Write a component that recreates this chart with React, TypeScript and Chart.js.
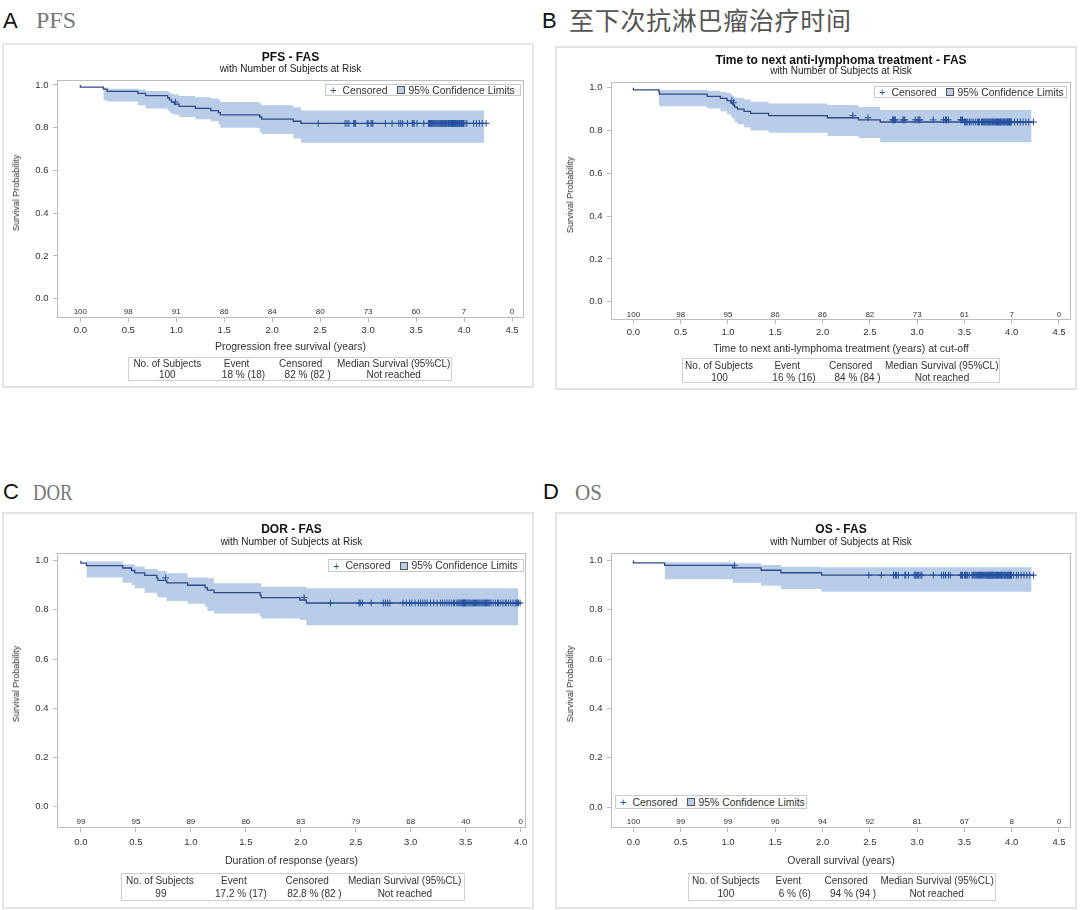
import React, { useEffect, useRef } from "react";
import { Chart, registerables } from "chart.js";

Chart.register(...registerables);

const FONT = '"Liberation Sans", Arial, Helvetica, sans-serif';
const SERIF = '"Liberation Serif", "Times New Roman", serif';
const CJK = '"Noto Sans CJK SC", sans-serif';
const BAND = "#b9cde8";
const LINE = "#2c4a86";
const MARK = "#24509e";
const FRAME = "#bdbdbd";
const TEXT = "#333333";

// ---------- shared axis / table text ----------
const yTickValues = [0, 0.2, 0.4, 0.6, 0.8, 1.0];
const xTicks45 = [0, 0.5, 1, 1.5, 2, 2.5, 3, 3.5, 4, 4.5];
const xTicks40 = [0, 0.5, 1, 1.5, 2, 2.5, 3, 3.5, 4];
const tableHeaders = ["No. of Subjects", "Event", "Censored", "Median Survival (95%CL)"];

// ---------- A: PFS ----------
const pfsEventTimes = [0.24, 0.28, 0.6, 0.68, 0.91, 0.93, 0.95, 0.98, 1.03, 1.2, 1.36, 1.44, 1.46, 1.87, 1.89, 2.22, 2.3, 2.35];
const pfsSurvival = [0.99, 0.98, 0.97, 0.96, 0.95, 0.94, 0.93, 0.92, 0.91, 0.9, 0.89, 0.88, 0.87, 0.86, 0.85, 0.84, 0.83, 0.82];
const pfsUpper = [0.99, 0.988, 0.982, 0.978, 0.972, 0.968, 0.962, 0.958, 0.955, 0.948, 0.942, 0.936, 0.932, 0.92, 0.914, 0.905, 0.895, 0.88];
const pfsLower = [0.93, 0.928, 0.922, 0.905, 0.89, 0.88, 0.87, 0.865, 0.86, 0.85, 0.84, 0.83, 0.815, 0.8, 0.78, 0.77, 0.75, 0.73];
const pfsCensorTimes = [
  0.99, 2.48, 2.76, 2.78, 2.8, 2.85, 2.86, 2.87, 2.99, 3.0, 3.03, 3.04, 3.05, 3.18, 3.25, 3.32, 3.34, 3.36, 3.41, 3.46, 3.47, 3.48,
  3.51, 3.58, 3.63, 3.64, 3.65, 3.66, 3.67, 3.68, 3.69, 3.7, 3.71, 3.72, 3.73, 3.74, 3.75, 3.75, 3.76, 3.77, 3.77, 3.78, 3.79, 3.79,
  3.8, 3.81, 3.81, 3.82, 3.83, 3.84, 3.84, 3.85, 3.86, 3.87, 3.87, 3.88, 3.89, 3.89, 3.9, 3.91, 3.91, 3.92, 3.93, 3.93, 3.94, 3.95,
  3.95, 3.96, 3.97, 3.97, 3.98, 3.98, 3.99, 3.99, 3.995, 4.01, 4.03, 4.1, 4.13, 4.16, 4.19, 4.23,
];
const pfsEndTime = 4.23;
const pfsBandEnd = 4.21;
const pfsRiskCounts = [100, 98, 91, 86, 84, 80, 73, 60, 7, 0];
const pfsTableValues = ["100", "18 % (18)", "82 % (82 )", "Not reached"];

// ---------- B: time to next anti-lymphoma treatment ----------
const ttntEventTimes = [0.27, 0.275, 0.78, 0.92, 0.99, 1.03, 1.05, 1.07, 1.1, 1.17, 1.24, 1.43, 2.05, 2.38, 2.61, 3.49];
const ttntSurvival = [0.99, 0.98, 0.97, 0.96, 0.95, 0.94, 0.93, 0.92, 0.91, 0.9, 0.89, 0.88, 0.87, 0.86, 0.85, 0.84];
const ttntUpper = [0.998, 0.997, 0.99, 0.986, 0.98, 0.975, 0.968, 0.962, 0.955, 0.952, 0.945, 0.935, 0.927, 0.92, 0.91, 0.896];
const ttntLower = [0.93, 0.927, 0.914, 0.903, 0.89, 0.878, 0.865, 0.855, 0.84, 0.83, 0.815, 0.8, 0.79, 0.775, 0.765, 0.745];
const ttntCensorTimes = [
  1.04, 1.06, 2.32, 2.48, 2.74, 2.75, 2.76, 2.77, 2.85, 2.86, 2.87, 2.98, 3.01, 3.02, 3.03, 3.17, 3.28, 3.3, 3.31, 3.33, 3.46, 3.47,
  3.48, 3.5, 3.51, 3.52, 3.53, 3.55, 3.56, 3.58, 3.6, 3.62, 3.64, 3.65, 3.66, 3.68, 3.69, 3.7, 3.71, 3.72, 3.73, 3.74, 3.75, 3.76,
  3.76, 3.77, 3.78, 3.79, 3.8, 3.8, 3.81, 3.82, 3.83, 3.84, 3.85, 3.85, 3.86, 3.87, 3.88, 3.88, 3.89, 3.9, 3.91, 3.92, 3.92, 3.93,
  3.94, 3.95, 3.95, 3.96, 3.97, 3.97, 3.98, 3.98, 3.99, 3.99, 3.995, 4.03, 4.06, 4.09, 4.12, 4.15, 4.18, 4.23,
];
const ttntEndTime = 4.23;
const ttntBandEnd = 4.21;
const ttntRiskCounts = [100, 98, 95, 86, 86, 82, 73, 61, 7, 0];
const ttntTableValues = ["100", "16 % (16)", "84 % (84 )", "Not reached"];

// ---------- C: DOR ----------
const dorEventTimes = [0.05, 0.38, 0.46, 0.49, 0.58, 0.69, 0.7, 0.78, 0.97, 1.13, 1.15, 1.21, 1.63, 1.64, 1.99, 2.05, 2.1];
const dorSurvival = [0.99, 0.98, 0.97, 0.96, 0.95, 0.94, 0.93, 0.92, 0.91, 0.9, 0.89, 0.88, 0.87, 0.86, 0.85, 0.84, 0.828];
const dorUpper = [0.999, 0.996, 0.985, 0.985, 0.976, 0.966, 0.966, 0.958, 0.949, 0.931, 0.931, 0.928, 0.908, 0.908, 0.894, 0.894, 0.888];
const dorLower = [0.931, 0.931, 0.91, 0.901, 0.888, 0.87, 0.86, 0.85, 0.836, 0.825, 0.813, 0.795, 0.785, 0.775, 0.765, 0.759, 0.738];
const dorCensorTimes = [
  0.77, 2.03, 2.27, 2.53, 2.54, 2.56, 2.64, 2.75, 2.77, 2.79, 2.81, 2.93, 2.96, 2.99, 3.01, 3.04, 3.07, 3.09, 3.11, 3.13, 3.15, 3.18,
  3.21, 3.24, 3.27, 3.29, 3.31, 3.33, 3.35, 3.37, 3.39, 3.4, 3.42, 3.43, 3.44, 3.45, 3.46, 3.47, 3.48, 3.48, 3.49, 3.49, 3.5, 3.51,
  3.52, 3.53, 3.54, 3.55, 3.56, 3.57, 3.58, 3.59, 3.6, 3.61, 3.62, 3.63, 3.64, 3.65, 3.66, 3.67, 3.68, 3.69, 3.7, 3.71, 3.72, 3.73,
  3.75, 3.77, 3.79, 3.8, 3.82, 3.84, 3.86, 3.87, 3.89, 3.91, 3.93, 3.95, 3.96, 3.97, 3.98, 3.995,
];
const dorEndTime = 4.0;
const dorBandEnd = 3.98;
const dorRiskCounts = [99, 95, 89, 86, 83, 79, 68, 40, 0];
const dorTableValues = ["99", "17.2 % (17)", "82.8 % (82 )", "Not reached"];

// ---------- D: OS ----------
const osEventTimes = [0.33, 1.05, 1.35, 1.56, 1.99, 2.31];
const osSurvival = [0.99, 0.98, 0.97, 0.96, 0.95, 0.94];
const osUpper = [0.995, 0.993, 0.988, 0.981, 0.974, 0.972];
const osLower = [0.934, 0.924, 0.909, 0.897, 0.884, 0.873];
const osCensorTimes = [
  1.07, 2.49, 2.62, 2.75, 2.77, 2.78, 2.8, 2.87, 2.88, 2.91, 2.97, 2.98, 2.99, 3.0, 3.01, 3.02, 3.04, 3.05, 3.17, 3.26, 3.28, 3.3,
  3.33, 3.35, 3.46, 3.47, 3.48, 3.5, 3.51, 3.52, 3.53, 3.55, 3.58, 3.59, 3.6, 3.61, 3.62, 3.63, 3.64, 3.65, 3.66, 3.67, 3.68, 3.69,
  3.7, 3.71, 3.72, 3.73, 3.74, 3.74, 3.75, 3.76, 3.76, 3.77, 3.78, 3.78, 3.79, 3.8, 3.8, 3.81, 3.82, 3.83, 3.84, 3.85, 3.85, 3.86,
  3.87, 3.88, 3.89, 3.89, 3.9, 3.91, 3.92, 3.93, 3.93, 3.94, 3.95, 3.96, 3.96, 3.97, 3.98, 3.98, 3.99, 3.99, 3.995, 3.997, 4.02,
  4.05, 4.07, 4.1, 4.13, 4.16, 4.19, 4.23,
];
const osEndTime = 4.23;
const osBandEnd = 4.21;
const osRiskCounts = [100, 99, 99, 96, 94, 92, 81, 67, 8, 0];
const osTableValues = ["100", "6 % (6)", "94 % (94 )", "Not reached"];

type KM = {
  eventTimes: number[];
  survival: number[];
  upper: number[];
  lower: number[];
  censorTimes: number[];
  endTime: number;
  bandEnd: number;
  xTicks: number[];
  riskCounts: number[];
};

type PanelSpec = {
  km: KM;
  box: number[];
  frame: number[];
  xRange: number[];
  yRange: number[];
  title: string;
  titleY: number;
  subY: number;
  xTitle: string;
  xTitleY: number;
  yTitleX: number;
  yTitleY: number;
  xTickPad: number;
  riskOffset: number;
  legend: { left: number; top: number; width: number; height: number };
  table: { left: number; top: number; width: number; height: number; rowY: number[]; head: number[]; val: number[]; values: string[] };
};

function Txt(props: any) {
  const { x, y, size, children, align = "center", weight = 400, color = TEXT, family = FONT, style = {} } = props;
  const h = Math.ceil(size * 1.4);
  const tx = align === "center" ? "translateX(-50%)" : align === "right" ? "translateX(-100%)" : "";
  return (
    <div
      style={{
        position: "absolute",
        left: x,
        top: y - h / 2,
        height: h,
        lineHeight: `${h}px`,
        fontSize: size,
        fontFamily: family,
        fontWeight: weight,
        color,
        whiteSpace: "nowrap",
        transform: tx,
        transformOrigin: "left center",
        ...style,
      }}
    >
      {children}
    </div>
  );
}

function Legend({ left, top, width, height }: any) {
  return (
    <div
      style={{
        position: "absolute",
        left,
        top,
        width,
        height,
        boxSizing: "border-box",
        border: "1px solid #cacaca",
        background: "#fff",
        display: "flex",
        alignItems: "center",
        fontFamily: FONT,
        fontSize: 10.4,
        color: TEXT,
        whiteSpace: "nowrap",
        paddingLeft: 4,
        overflow: "hidden",
      }}
    >
      <span style={{ color: MARK, fontSize: 11, marginRight: 6 }}>+</span>
      <span>Censored</span>
      <span
        style={{
          display: "inline-block",
          width: 6,
          height: 6,
          border: "1px solid #555",
          background: BAND,
          marginLeft: 9,
          marginRight: 4,
        }}
      />
      <span>95% Confidence Limits</span>
    </div>
  );
}

function StatTable({ t }: any) {
  return (
    <div
      style={{
        position: "absolute",
        left: t.left,
        top: t.top,
        width: t.width,
        height: t.height,
        boxSizing: "border-box",
        border: "1px solid #d0d0d0",
      }}
    >
      {tableHeaders.map((h, i) => (
        <Txt key={"h" + i} x={t.head[i]} y={t.rowY[0]} size={10}>
          {h}
        </Txt>
      ))}
      {t.values.map((v: string, i: number) => (
        <Txt key={"v" + i} x={t.val[i]} y={t.rowY[1]} size={10}>
          {v}
        </Txt>
      ))}
    </div>
  );
}

function KMPanel({ spec }: { spec: PanelSpec }) {
  const ref = useRef<HTMLCanvasElement | null>(null);
  const [bl, bt, br, bb] = spec.box;
  const [fl, ft, fr, fb] = spec.frame;
  const W = br - bl;
  const H = bb - bt;

  useEffect(() => {
    const km = spec.km;
    const last = km.survival.length - 1;
    const stepAt = (t: number) => {
      let v = 1;
      km.eventTimes.forEach((e, i) => {
        if (e <= t) v = km.survival[i];
      });
      return v;
    };
    const curve = [
      { x: 0, y: 1 },
      ...km.eventTimes.map((t, i) => ({ x: t, y: km.survival[i] })),
      { x: km.endTime, y: km.survival[last] },
    ];
    const up = [...km.eventTimes.map((t, i) => ({ x: t, y: km.upper[i] })), { x: km.bandEnd, y: km.upper[last] }];
    const lo = [...km.eventTimes.map((t, i) => ({ x: t, y: km.lower[i] })), { x: km.bandEnd, y: km.lower[last] }];
    const cens = km.censorTimes.map((t) => ({ x: t, y: stepAt(t) }));

    const decor = {
      id: "kmDecor",
      afterDatasetsDraw(chart: any) {
        const { ctx, chartArea: a } = chart;
        const xs = chart.scales.x;
        ctx.save();
        ctx.strokeStyle = FRAME;
        ctx.lineWidth = 1;
        ctx.strokeRect(Math.round(a.left) + 0.5, Math.round(a.top) + 0.5, Math.round(a.right - a.left) - 1, Math.round(a.bottom - a.top) - 1);
        ctx.fillStyle = TEXT;
        ctx.font = `8px ${FONT}`;
        ctx.textAlign = "center";
        ctx.textBaseline = "middle";
        km.xTicks.forEach((t, i) => {
          ctx.fillText(String(km.riskCounts[i]), xs.getPixelForValue(t), a.bottom - spec.riskOffset);
        });
        ctx.restore();
      },
    };

    const yAxisW = fl - bl - 2;
    const xAxisH = bb - fb - 2;
    const tickFont = { family: FONT, size: 9.5 };
    const chart = new Chart(ref.current as HTMLCanvasElement, {
      type: "line",
      data: {
        datasets: [
          { data: up, stepped: "after", borderColor: "rgba(0,0,0,0)", borderWidth: 0, pointRadius: 0, pointHoverRadius: 0, fill: false, order: 4 } as any,
          { data: lo, stepped: "after", borderColor: "rgba(0,0,0,0)", borderWidth: 0, pointRadius: 0, pointHoverRadius: 0, fill: "-1", backgroundColor: BAND, order: 3 } as any,
          { data: curve, stepped: "after", borderColor: LINE, borderWidth: 1.3, pointRadius: 0, pointHoverRadius: 0, fill: false, order: 1 } as any,
          {
            data: cens,
            showLine: false,
            pointStyle: "cross",
            pointRadius: 3.4,
            pointBorderWidth: 1,
            pointBorderColor: MARK,
            pointBackgroundColor: MARK,
            borderColor: MARK,
            fill: false,
            order: 0,
          } as any,
        ],
      },
      options: {
        animation: false,
        responsive: false,
        maintainAspectRatio: false,
        events: [],
        layout: { padding: { left: 2, top: ft - bt, right: br - fr, bottom: 2 } },
        plugins: { legend: { display: false }, tooltip: { enabled: false }, title: { display: false } },
        scales: {
          x: {
            type: "linear",
            min: spec.xRange[0],
            max: spec.xRange[1],
            afterBuildTicks: (s: any) => {
              s.ticks = km.xTicks.map((v) => ({ value: v }));
            },
            afterFit: (s: any) => {
              s.height = xAxisH;
            },
            grid: { display: true, drawOnChartArea: false, drawTicks: true, tickLength: 4, color: FRAME, lineWidth: 1 },
            border: { display: false },
            ticks: {
              autoSkip: false,
              maxRotation: 0,
              minRotation: 0,
              padding: spec.xTickPad,
              color: TEXT,
              font: tickFont,
              callback: (v: any) => Number(v).toFixed(1),
            },
          },
          y: {
            type: "linear",
            min: spec.yRange[0],
            max: spec.yRange[1],
            afterBuildTicks: (s: any) => {
              s.ticks = yTickValues.map((v) => ({ value: v }));
            },
            afterFit: (s: any) => {
              s.width = yAxisW;
            },
            grid: { display: true, drawOnChartArea: false, drawTicks: true, tickLength: 4, color: FRAME, lineWidth: 1 },
            border: { display: false },
            ticks: { padding: 4.5, color: TEXT, font: tickFont, callback: (v: any) => Number(v).toFixed(1) },
          },
        },
      } as any,
      plugins: [decor],
    });
    return () => chart.destroy();
  }, [spec]);

  const cx = (fl + fr) / 2;
  const L = spec.legend;
  return (
    <>
      <div
        style={{
          position: "absolute",
          left: bl,
          top: bt,
          width: W,
          height: H,
          boxSizing: "border-box",
          border: "2px solid #e4e4e4",
        }}
      />
      <canvas ref={ref} width={W} height={H} style={{ position: "absolute", left: bl, top: bt, width: W, height: H }} />
      <Txt x={cx} y={spec.titleY} size={12} weight={700} color="#111">
        {spec.title}
      </Txt>
      <Txt x={cx} y={spec.subY} size={10} color="#222">
        with Number of Subjects at Risk
      </Txt>
      <Txt x={cx} y={spec.xTitleY} size={10.5}>
        {spec.xTitle}
      </Txt>
      <div
        style={{
          position: "absolute",
          left: spec.yTitleX,
          top: spec.yTitleY,
          transform: "translate(-50%, -50%) rotate(-90deg)",
          fontFamily: FONT,
          fontSize: 9,
          lineHeight: "12px",
          color: TEXT,
          whiteSpace: "nowrap",
        }}
      >
        Survival Probability
      </div>
      <Legend left={L.left} top={L.top} width={L.width} height={L.height} />
      <StatTable t={spec.table} />
    </>
  );
}

const panelA: PanelSpec = {
  km: {
    eventTimes: pfsEventTimes,
    survival: pfsSurvival,
    upper: pfsUpper,
    lower: pfsLower,
    censorTimes: pfsCensorTimes,
    endTime: pfsEndTime,
    bandEnd: pfsBandEnd,
    xTicks: xTicks45,
    riskCounts: pfsRiskCounts,
  },
  box: [2, 43, 534, 388],
  frame: [57, 80, 524, 318],
  xRange: [-0.243, 4.625],
  yRange: [-0.09, 1.023],
  title: "PFS - FAS",
  titleY: 57.5,
  subY: 69,
  xTitle: "Progression free survival (years)",
  xTitleY: 346.5,
  yTitleX: 15.5,
  yTitleY: 192.5,
  xTickPad: 3,
  riskOffset: 5.8,
  legend: { left: 325, top: 84, width: 196, height: 12 },
  table: { left: 128, top: 357, width: 324, height: 24, rowY: [6, 17], head: [38.3, 107.6, 171.7, 264.7], val: [38.3, 114.5, 178.7, 264.7], values: pfsTableValues },
};

const panelB: PanelSpec = {
  km: {
    eventTimes: ttntEventTimes,
    survival: ttntSurvival,
    upper: ttntUpper,
    lower: ttntLower,
    censorTimes: ttntCensorTimes,
    endTime: ttntEndTime,
    bandEnd: ttntBandEnd,
    xTicks: xTicks45,
    riskCounts: ttntRiskCounts,
  },
  box: [555, 46, 1077, 390],
  frame: [611, 82, 1071, 320],
  xRange: [-0.237, 4.627],
  yRange: [-0.0855, 1.027],
  title: "Time to next anti-lymphoma treatment - FAS",
  titleY: 60,
  subY: 71,
  xTitle: "Time to next anti-lymphoma treatment (years) at cut-off",
  xTitleY: 348.3,
  yTitleX: 570.3,
  yTitleY: 194.7,
  xTickPad: 3,
  riskOffset: 5.2,
  legend: { left: 874, top: 86, width: 193, height: 12 },
  table: { left: 682, top: 358, width: 318, height: 25, rowY: [7, 18.5], head: [36, 104.2, 167.6, 258.8], val: [36.6, 111, 174.6, 259], values: ttntTableValues },
};

const panelC: PanelSpec = {
  km: {
    eventTimes: dorEventTimes,
    survival: dorSurvival,
    upper: dorUpper,
    lower: dorLower,
    censorTimes: dorCensorTimes,
    endTime: dorEndTime,
    bandEnd: dorBandEnd,
    xTicks: xTicks40,
    riskCounts: dorRiskCounts,
  },
  box: [2, 512, 534, 909],
  frame: [57, 553, 526, 828],
  xRange: [-0.218, 4.049],
  yRange: [-0.086, 1.031],
  title: "DOR - FAS",
  titleY: 529,
  subY: 542,
  xTitle: "Duration of response (years)",
  xTitleY: 860,
  yTitleX: 15.5,
  yTitleY: 683.7,
  xTickPad: 4.9,
  riskOffset: 6,
  legend: { left: 328, top: 559, width: 196, height: 13 },
  table: { left: 121, top: 873, width: 344, height: 28, rowY: [6.6, 20], head: [37.9, 111.9, 185.2, 282.6], val: [38.9, 118.9, 192.4, 282.9], values: dorTableValues },
};

const panelD: PanelSpec = {
  km: {
    eventTimes: osEventTimes,
    survival: osSurvival,
    upper: osUpper,
    lower: osLower,
    censorTimes: osCensorTimes,
    endTime: osEndTime,
    bandEnd: osBandEnd,
    xTicks: xTicks45,
    riskCounts: osRiskCounts,
  },
  box: [555, 512, 1077, 909],
  frame: [611, 553, 1071, 828],
  xRange: [-0.237, 4.627],
  yRange: [-0.085, 1.03],
  title: "OS - FAS",
  titleY: 529,
  subY: 542,
  xTitle: "Overall survival (years)",
  xTitleY: 860,
  yTitleX: 570.3,
  yTitleY: 683.5,
  xTickPad: 4.9,
  riskOffset: 6,
  legend: { left: 615, top: 795, width: 192, height: 14 },
  table: { left: 688, top: 873, width: 308, height: 28, rowY: [6.6, 20], head: [36.9, 99.3, 157.2, 248.1], val: [36.9, 105.8, 164.1, 247.7], values: osTableValues },
};

export default function App() {
  return (
    <div style={{ position: "absolute", left: 0, top: 0, width: 1080, height: 910, background: "#fff", overflow: "hidden" }}>
      <Txt x={3} y={20} size={22} align="left" color="#111">A</Txt>
      <Txt x={36} y={19.5} size={24} align="left" color="#777" family={SERIF}>PFS</Txt>
      <Txt x={542} y={20} size={22} align="left" color="#111">B</Txt>
      <Txt x={569} y={19.5} size={25} align="left" color="#555" family={CJK} style={{ letterSpacing: "0.7px" }}>
        至下次抗淋巴瘤治疗时间
      </Txt>
      <Txt x={3} y={491.5} size={22} align="left" color="#111">C</Txt>
      <Txt x={33} y={491.5} size={24} align="left" color="#777" family={SERIF} style={{ transform: "scaleX(0.78)" }}>DOR</Txt>
      <Txt x={543} y={491.5} size={22} align="left" color="#111">D</Txt>
      <Txt x={575} y={491.5} size={24} align="left" color="#777" family={SERIF} style={{ transform: "scaleX(0.88)" }}>OS</Txt>
      <KMPanel spec={panelA} />
      <KMPanel spec={panelB} />
      <KMPanel spec={panelC} />
      <KMPanel spec={panelD} />
    </div>
  );
}
